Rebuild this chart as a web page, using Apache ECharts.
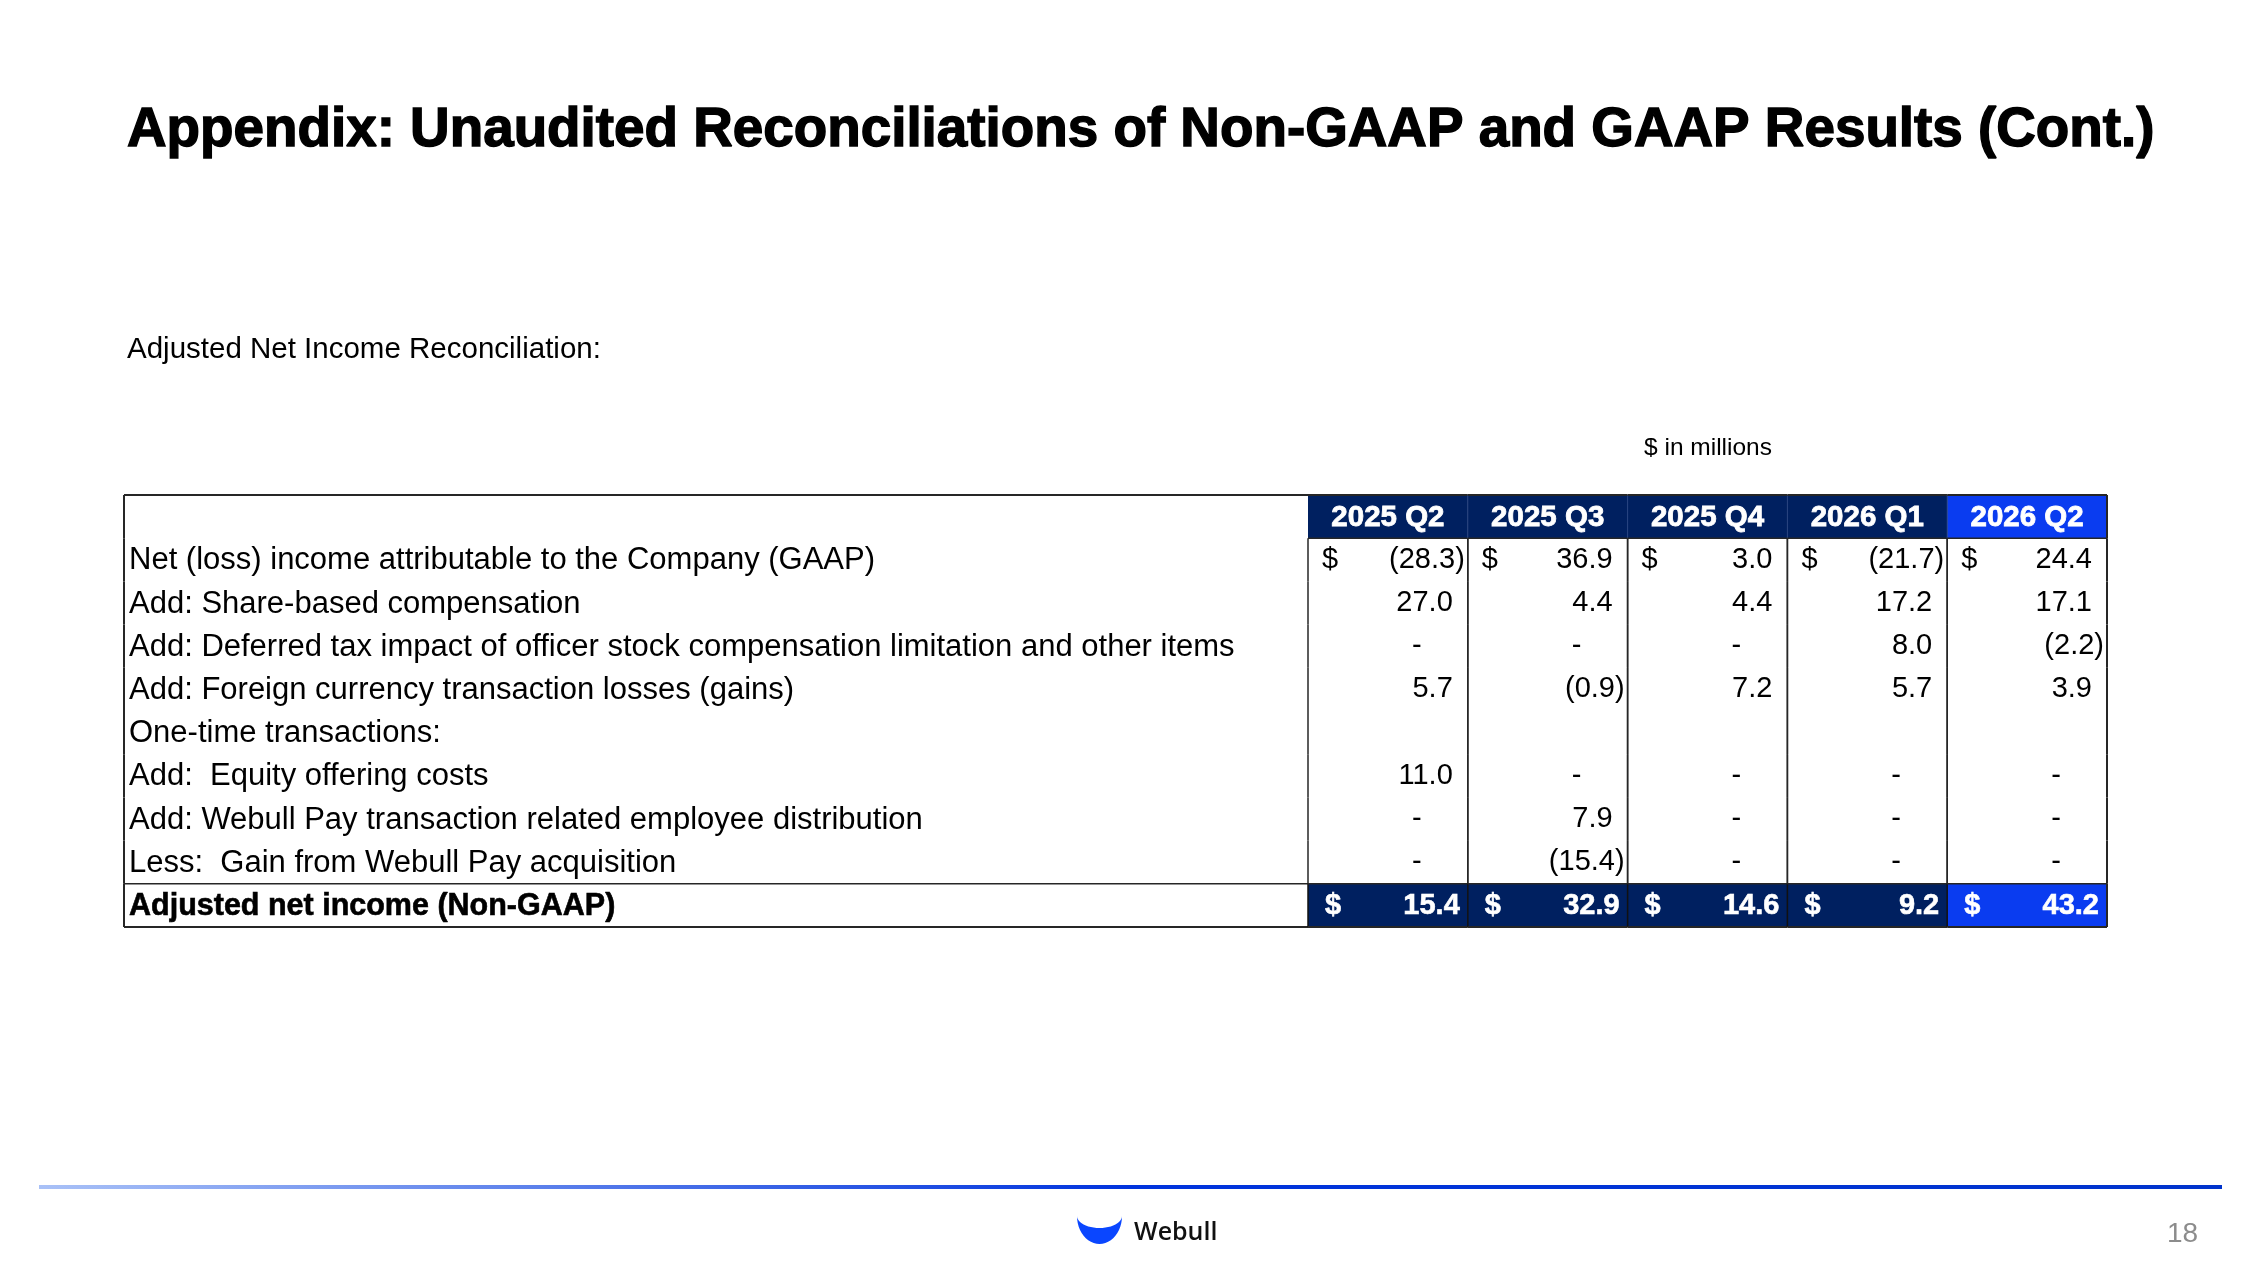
<!DOCTYPE html>
<html>
<head>
<meta charset="utf-8">
<title>Adjusted Net Income Reconciliation</title>
<script src="https://cdn.jsdelivr.net/npm/echarts@6/dist/echarts.min.js"></script>
<style>
  html, body { margin: 0; padding: 0; background: #fff; }
  #main { width: 2267px; height: 1275px; }
</style>
</head>
<body>
<div id="main"></div>
<script>
// quarters (columns) and row labels
var quarters = ['2025 Q2', '2025 Q3', '2025 Q4', '2026 Q1', '2026 Q2'];
var rowLabels = [
    '',
    'Net (loss) income attributable to the Company (GAAP)',
    'Add: Share-based compensation',
    'Add: Deferred tax impact of officer stock compensation limitation and other items',
    'Add: Foreign currency transaction losses (gains)',
    'One-time transactions:',
    'Add:  Equity offering costs',
    'Add: Webull Pay transaction related employee distribution',
    'Less:  Gain from Webull Pay acquisition',
    'Adjusted net income (Non-GAAP)'
];

// $ in millions, 0 = shown as "-", null = blank
var netIncomeGaap   = [-28.3, 36.9, 3.0, -21.7, 24.4];
var shareBasedComp  = [27.0, 4.4, 4.4, 17.2, 17.1];
var deferredTax     = [0, 0, 0, 8.0, -2.2];
var fxLossGain      = [5.7, -0.9, 7.2, 5.7, 3.9];
var oneTimeHeader   = [null, null, null, null, null];
var equityOffering  = [11.0, 0, 0, 0, 0];
var payDistribution = [0, 7.9, 0, 0, 0];
var payGain         = [0, -15.4, 0, 0, 0];
var adjustedNonGaap = [15.4, 32.9, 14.6, 9.2, 43.2];

var rowValues = [null, netIncomeGaap, shareBasedComp, deferredTax, fxLossGain,
    oneTimeHeader, equityOffering, payDistribution, payGain, adjustedNonGaap];

var NAVY = '#002060';
var BLUE = '#0a3cf0';
var LINE = '#262626';
var FONT = '"Liberation Sans", Arial, sans-serif';
var TOTAL_ROW = rowLabels.length - 1;

// cell list for the numeric part
var cells = [];
for (var r = 0; r < rowLabels.length; r++) {
    for (var c = 0; c < quarters.length; c++) {
        cells.push([c, r, r === 0 ? quarters[c] : rowValues[r][c]]);
    }
}
var labelCells = [];
for (var k = 0; k < rowLabels.length; k++) {
    labelCells.push([0, k, rowLabels[k]]);
}

function fmt(v) {
    if (v === 0) return '-';
    var s = Math.abs(v).toFixed(1);
    return v < 0 ? '(' + s + ')' : s;
}

function vline(x, y0, y1, color, w) {
    return { type: 'line', shape: { x1: x, y1: y0, x2: x, y2: y1 },
        style: { stroke: color, lineWidth: w } };
}
function hline(x0, x1, y, color, w) {
    return { type: 'line', shape: { x1: x0, y1: y, x2: x1, y2: y },
        style: { stroke: color, lineWidth: w } };
}

function renderNumber(params, api) {
    var cell = cells[params.dataIndex];
    var c = cell[0], r = cell[1], v = cell[2];
    var p = api.coord([c, r]);
    var size = api.size([1, 1]);
    var w = size[0], h = size[1];
    var x0 = p[0] - w / 2, x1 = p[0] + w / 2, y0 = p[1] - h / 2, y1 = p[1] + h / 2;
    var kids = [];
    var last = c === quarters.length - 1;

    if (r === 0 || r === TOTAL_ROW) {
        var bg = last ? BLUE : NAVY;
        kids.push({ type: 'rect', shape: { x: x0, y: y0, width: w, height: h },
            style: { fill: bg } });
        if (r === 0) {
            if (c > 0) kids.push(vline(x0, y0, y1, '#25407e', 1));
            kids.push(hline(x0, x1, y0, LINE, 2));
            kids.push(hline(x0, x1, y1, LINE, 1.5));
            kids.push({ type: 'text', style: { text: v, x: p[0], y: p[1] + 1,
                align: 'center', verticalAlign: 'middle', fill: '#fff',
                stroke: '#fff', lineWidth: 0.8,
                fontSize: 29.5, fontWeight: 'bold', fontFamily: FONT } });
        } else {
            kids.push(vline(x0, y0, y1, '#111', 1.5));
            kids.push(hline(x0, x1, y0, LINE, 1.5));
            kids.push(hline(x0, x1, y1, LINE, 2));
            kids.push({ type: 'text', style: { text: '$', x: x0 + 17, y: p[1] + 1,
                align: 'left', verticalAlign: 'middle', fill: '#fff',
                stroke: '#fff', lineWidth: 0.6,
                fontSize: 29, fontWeight: 'bold', fontFamily: FONT } });
            kids.push({ type: 'text', style: { text: fmt(v), x: x1 - 8, y: p[1] + 1,
                align: 'right', verticalAlign: 'middle', fill: '#fff',
                stroke: '#fff', lineWidth: 0.6,
                fontSize: 29, fontWeight: 'bold', fontFamily: FONT } });
        }
        if (last) kids.push(vline(x1, y0, y1, LINE, 2));
        return { type: 'group', children: kids };
    }

    kids.push(vline(x0, y0, y1, LINE, 1.5));
    kids.push(vline(x1, y0, y1, LINE, last ? 2 : 1.5));
    if (v !== null && v !== undefined) {
        var txt = fmt(v);
        var tx, al;
        if (v === 0) { tx = x1 - 51; al = 'center'; }
        else if (v < 0) { tx = x1 - 3; al = 'right'; }
        else { tx = x1 - 15; al = 'right'; }
        kids.push({ type: 'text', style: { text: txt, x: tx, y: p[1],
            align: al, verticalAlign: 'middle', fill: '#000',
            fontSize: 29, fontFamily: FONT } });
        if (r === 1) {
            kids.push({ type: 'text', style: { text: '$', x: x0 + 14, y: p[1],
                align: 'left', verticalAlign: 'middle', fill: '#000',
                fontSize: 29, fontFamily: FONT } });
        }
    }
    return { type: 'group', children: kids };
}

function renderLabel(params, api) {
    var cell = labelCells[params.dataIndex];
    var r = cell[1];
    var p = api.coord([0, r]);
    var size = api.size([1, 1]);
    var w = size[0], h = size[1];
    var x0 = p[0] - w / 2, x1 = p[0] + w / 2, y0 = p[1] - h / 2, y1 = p[1] + h / 2;
    var kids = [vline(x0, y0, y1, LINE, 2)];
    if (r === 0) kids.push(hline(x0, x1, y0, LINE, 2));
    var bold = r === TOTAL_ROW;
    if (bold) {
        kids.push(hline(x0, x1, y0, LINE, 1.5));
        kids.push(hline(x0, x1, y1, LINE, 2));
    }
    kids.push({ type: 'text', style: { text: cell[2], x: x0 + 5, y: p[1] + 1,
        align: 'left', verticalAlign: 'middle', fill: '#000',
        stroke: bold ? '#000' : null, lineWidth: bold ? 0.6 : 0,
        fontSize: bold ? 30.5 : 31, fontWeight: bold ? 'bold' : 'normal',
        fontFamily: FONT } });
    return { type: 'group', children: kids };
}

var hiddenCat = function (gi, data, inverse) {
    return { type: 'category', gridIndex: gi, data: data, inverse: !!inverse, show: false };
};

// logo crescent outline (outer bowl, then inner curve back)
var logoPts = [];
for (var i = 0; i <= 24; i++) {
    var a = Math.PI * i / 24;
    logoPts.push([1099.5 - 22.5 * Math.cos(a), 1216 + 28 * Math.sin(a)]);
}
for (var j = 24; j >= 0; j--) {
    var b = Math.PI * j / 24;
    logoPts.push([1099.5 - 22.5 * Math.cos(b), 1216 + 12 * Math.sin(b)]);
}

var option = {
    animation: false,
    backgroundColor: '#fff',
    title: {
        text: 'Appendix: Unaudited Reconciliations of Non-GAAP and GAAP Results (Cont.)',
        left: 127, top: 104, padding: 0,
        textStyle: { fontSize: 54.8, fontWeight: 'bold', fontFamily: FONT, color: '#000',
                     lineHeight: 54, textBorderColor: '#000', textBorderWidth: 1.4 }
    },
    grid: [
        { left: 124, top: 495, width: 1184, height: 432 },
        { left: 1308, top: 495, width: 799, height: 432 }
    ],
    xAxis: [hiddenCat(0, ['label']), hiddenCat(1, quarters)],
    yAxis: [hiddenCat(0, rowLabels, true), hiddenCat(1, rowLabels, true)],
    series: [
        { type: 'custom', xAxisIndex: 0, yAxisIndex: 0, data: labelCells,
          renderItem: renderLabel, clip: false, silent: true },
        { type: 'custom', xAxisIndex: 1, yAxisIndex: 1, data: cells,
          renderItem: renderNumber, clip: false, silent: true }
    ],
    graphic: [
        { type: 'text', left: 127, top: 335,
          style: { text: 'Adjusted Net Income Reconciliation:', fill: '#000',
                   fontSize: 29.5, fontFamily: FONT } },
        { type: 'text', left: 1644, top: 436,
          style: { text: '$ in millions', fill: '#000', fontSize: 24.5, fontFamily: FONT } },
        { type: 'rect', shape: { x: 39, y: 1185, width: 2183, height: 4 },
          style: { fill: { type: 'linear', x: 0, y: 0, x2: 1, y2: 0,
              colorStops: [{ offset: 0, color: '#a9c1f7' }, { offset: 0.5, color: '#0033dd' },
                           { offset: 1, color: '#0033cc' }] } } },
        { type: 'polygon', shape: { points: logoPts }, style: { fill: '#0a46ff' } },
        { type: 'text', left: 1134, top: 1220,
          style: { text: 'Webull', fill: '#111', fontSize: 25, fontWeight: 600,
                   fontFamily: '"Open Sans", "Noto Sans", sans-serif' } },
        { type: 'text', left: 2167, top: 1220,
          style: { text: '18', fill: '#8c8c8c', fontSize: 28, fontFamily: FONT } }
    ]
};

var myChart = echarts.init(document.getElementById('main'));
myChart.setOption(option);
</script>
</body>
</html>
